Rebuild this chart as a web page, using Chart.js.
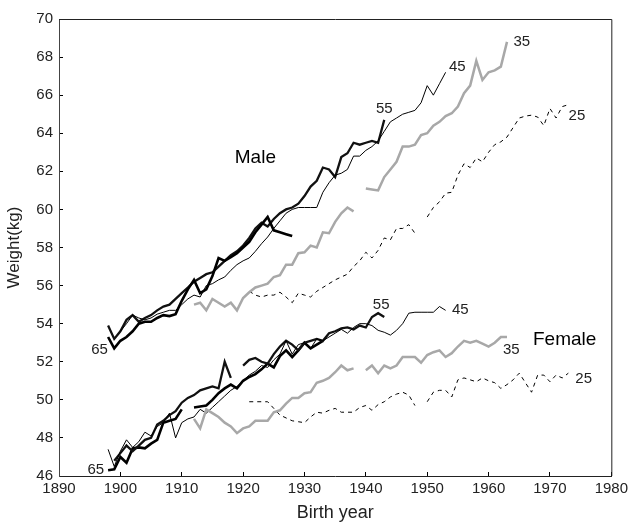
<!DOCTYPE html>
<html><head><meta charset="utf-8">
<script src="https://cdn.jsdelivr.net/npm/chart.js@4.4.1/dist/chart.umd.min.js"></script>
<style>html,body{margin:0;padding:0;background:#fff}</style>
</head><body>
<canvas id="c" width="636" height="530"></canvas>
<script>
// ---------- data (birth year start + weights in kg, null = gap) ----------
const m65Start = 1898;
const m65 = [53.3,52.7,53.1,53.3,53.6,54.0,54.1,54.1,54.3,54.45,54.4,54.5,55.2,55.8,56.3,55.6,55.8,56.5,57.45,57.3,57.5,57.7,58.0,58.3,58.8,59.2,59.6,58.9,58.8,58.7,58.6];
const m55Start = 1898;
const m55 = [53.9,53.2,53.6,54.2,54.45,54.1,54.3,54.45,54.7,54.9,55.0,55.3,55.6,55.9,56.2,56.4,56.6,56.7,57.0,57.3,57.6,57.8,58.1,58.5,59.0,59.3,59.1,59.5,59.8,60.0,60.1,60.3,60.7,61.2,61.5,62.2,62.1,61.7,62.75,62.95,63.5,63.4,63.5,63.6,63.5,64.7];
const m45Start = 1900;
const m45 = [53.6,54.0,54.45,54.3,54.2,54.3,54.5,54.6,54.7,54.7,55.0,55.3,55.5,55.4,56.0,56.1,56.3,56.45,56.8,57.1,57.3,57.45,57.8,58.2,58.55,59.0,59.4,59.8,60.0,60.1,60.1,60.1,60.1,60.9,61.4,61.8,61.9,62.1,62.8,62.8,63.1,63.3,63.6,64.1,64.6,64.8,65.0,65.1,65.2,65.6,66.5,66.0,66.6,67.2];
const m35Start = 1912;
const m35 = [55.0,55.1,54.7,55.3,55.1,54.9,55.1,54.7,55.35,55.65,55.9,56.0,56.1,56.45,56.55,57.1,57.1,57.7,57.75,58.1,58.0,58.8,58.75,59.35,59.8,60.1,59.9,null,61.1,61.05,61.0,61.7,62.1,62.5,63.3,63.3,63.4,63.9,64.0,64.4,64.6,64.9,65.05,65.4,66.1,66.5,67.8,66.8,67.2,67.3,67.5,68.8];
const m25Start = 1921;
const m25 = [55.7,55.5,55.4,55.5,55.5,55.65,55.4,55.1,55.6,55.5,55.4,55.7,55.9,56.1,56.3,56.45,56.6,57.0,57.3,57.75,57.45,57.85,58.5,58.4,59.0,59.0,59.2,58.75,null,59.6,60.1,60.4,60.85,60.9,61.8,62.4,62.2,62.7,62.5,63.0,63.4,63.55,63.8,64.3,64.8,64.9,64.95,64.85,64.4,65.3,64.8,65.4,65.5];

const f65Start = 1898;
const f65 = [46.3,46.35,47.0,46.7,47.45,47.5,47.45,47.7,47.9,48.8,48.9,49.0,49.5,null,49.6,49.65,49.7,50.0,50.35,50.6,50.8,50.6,51.0,51.2,51.35,51.6,51.9,51.7,52.3,52.6,52.25,52.6,53.0,52.7,52.9,53.1];
const f55Start = 1899;
const f55 = [46.8,47.2,47.6,47.3,47.6,47.9,48.0,48.7,48.9,49.2,49.4,49.85,50.1,50.25,50.5,50.6,50.7,50.6,52.0,51.15,null,51.8,52.1,52.2,52.0,51.9,52.4,52.8,53.1,52.9,52.6,53.0,53.1,53.2,53.1,53.5,53.6,53.75,53.8,53.7,53.9,53.8,54.35,54.55,54.35];
const f45Start = 1898;
const f45 = [47.4,46.5,47.3,47.9,47.5,47.8,48.3,48.1,48.6,48.8,49.3,48.0,48.8,49.0,49.1,49.5,49.3,49.6,49.9,50.2,50.5,50.7,51.0,51.3,51.5,51.8,51.7,52.1,52.4,53.1,52.4,52.9,53.0,52.7,53.2,53.1,53.3,53.5,53.7,53.5,53.8,54.0,54.0,53.9,53.65,53.55,53.4,53.65,54.0,54.55,54.6,54.6,54.6,54.6,54.9,54.7];
const f35Start = 1912;
const f35 = [49.0,48.5,49.5,49.3,49.1,48.8,48.6,48.25,48.5,48.6,48.9,48.9,48.9,49.35,49.45,49.8,50.1,50.1,50.35,50.4,50.9,51.0,51.15,51.45,51.8,51.55,51.65,null,51.55,51.8,51.4,51.8,51.65,51.8,52.25,52.25,52.25,51.95,52.35,52.5,52.6,52.25,52.45,52.8,53.1,53.0,53.1,52.95,52.8,53.0,53.3,53.3];
const f25Start = 1921;
const f25 = [49.9,49.9,49.9,49.9,49.55,49.2,49.05,48.9,48.85,48.8,49.1,49.35,49.3,49.45,49.55,49.35,49.35,49.35,49.6,49.7,49.45,49.75,49.9,50.15,50.3,50.4,50.25,49.7,null,49.9,50.4,50.5,50.5,50.15,51.05,51.15,51.05,50.95,51.15,51.0,50.9,50.6,50.8,51.05,51.4,50.9,50.4,51.3,51.3,50.95,51.3,51.15,51.4];

// annotation texts and their positions in data units
const noteTexts  = ['65','55','45','35','25','Male','65','55','45','35','25','Female'];
const noteYears  = [1896.6,1943,1954.9,1965.4,1974.4,1922,1896,1942.5,1955.4,1963.7,1975.5,1972.4];
const noteWeights= [52.6,65.3,67.5,68.8,64.9,62.7,46.3,55.0,54.7,52.6,51.1,53.15];
const noteBig    = [false,false,false,false,false,true,false,false,false,false,false,true];

const FONT = "'Liberation Sans', Arial, Helvetica, sans-serif";

function pts(start, arr){ return arr.map((v,i)=>({x:start+i, y:v})); }

const styles = {
  a65:{borderColor:'#000', borderWidth:2.6},
  a55:{borderColor:'#111', borderWidth:2.3},
  a45:{borderColor:'#000', borderWidth:1},
  a35:{borderColor:'#a8a8a8', borderWidth:2.5},
  a25:{borderColor:'#000', borderWidth:1, borderDash:[4,4]}
};

const datasets = [
  Object.assign({label:'Male 35', data:pts(m35Start,m35)}, styles.a35),
  Object.assign({label:'Male 25', data:pts(m25Start,m25)}, styles.a25),
  Object.assign({label:'Male 45', data:pts(m45Start,m45)}, styles.a45),
  Object.assign({label:'Male 65', data:pts(m65Start,m65)}, styles.a65),
  Object.assign({label:'Male 55', data:pts(m55Start,m55)}, styles.a55),
  Object.assign({label:'Female 35', data:pts(f35Start,f35)}, styles.a35),
  Object.assign({label:'Female 25', data:pts(f25Start,f25)}, styles.a25),
  Object.assign({label:'Female 45', data:pts(f45Start,f45)}, styles.a45),
  Object.assign({label:'Female 55', data:pts(f55Start,f55)}, styles.a55),
  Object.assign({label:'Female 65', data:pts(f65Start,f65)}, styles.a65)
];

const framePlugin = {
  id:'frame',
  afterDraw(chart){
    const {ctx, chartArea:a} = chart;
    ctx.save();
    ctx.strokeStyle = '#222'; ctx.lineWidth = 1;
    ctx.beginPath();
    ctx.moveTo(a.left, a.top+0.5); ctx.lineTo(a.right+0.5, a.top+0.5);
    ctx.lineTo(a.right+0.5, a.bottom);
    ctx.stroke();
    ctx.restore();
  }
};

const notesPlugin = {
  id:'notes',
  afterDatasetsDraw(chart){
    const {ctx, scales:{x,y}} = chart;
    ctx.save();
    ctx.textAlign = 'center'; ctx.textBaseline = 'middle';
    noteTexts.forEach((t,i)=>{
      ctx.font = (noteBig[i] ? '19px ' : '15px ') + FONT;
      ctx.fillStyle = noteBig[i] ? '#000' : '#222';
      ctx.fillText(t, x.getPixelForValue(noteYears[i]), y.getPixelForValue(noteWeights[i]));
    });
    ctx.restore();
  }
};

new Chart(document.getElementById('c'), {
  type:'line',
  data:{datasets},
  plugins:[framePlugin, notesPlugin],
  options:{
    responsive:false,
    animation:false,
    spanGaps:false,
    layout:{padding:{top:19, right:18, left:0, bottom:0}},
    elements:{point:{radius:0}, line:{tension:0, fill:false, borderCapStyle:'butt', borderJoinStyle:'miter'}},
    plugins:{legend:{display:false}, tooltip:{enabled:false}},
    scales:{
      x:{
        type:'linear', min:1890, max:1980,
        ticks:{stepSize:10, color:'#222', font:{size:15, family:FONT}, padding:8, maxRotation:0, callback:v=>String(v)},
        grid:{drawOnChartArea:false, drawTicks:true, tickLength:-4, tickColor:'#000'},
        border:{display:true, color:'#222', width:1},
        title:{display:true, text:'Birth year', color:'#222', font:{size:18, family:FONT}, padding:{top:0, bottom:6}},
        afterFit(s){ s.height = 54; }
      },
      y:{
        type:'linear', min:46, max:70,
        ticks:{stepSize:2, color:'#222', font:{size:15, family:FONT}, padding:10, callback:v=>String(v)},
        grid:{drawOnChartArea:false, drawTicks:true, tickLength:-4, tickColor:'#000'},
        border:{display:true, color:'#444', width:1},
        title:{display:true, text:'Weight(kg)', color:'#222', font:{size:17, family:FONT}, padding:{top:4, bottom:0}},
        afterFit(s){ s.width = 59; }
      }
    }
  }
});
</script>
</body></html>
